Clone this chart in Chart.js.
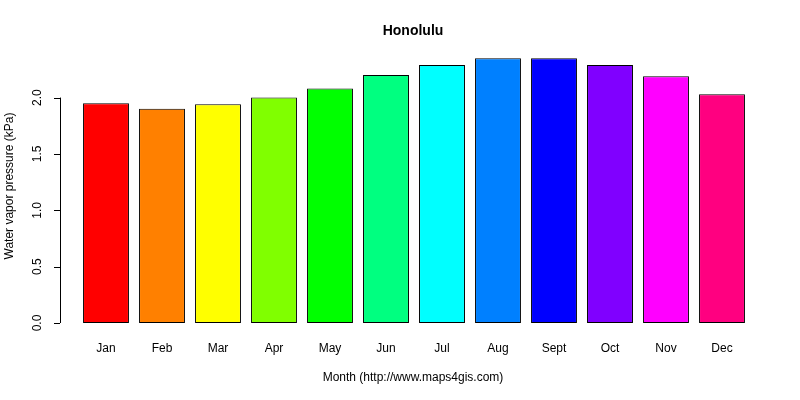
<!DOCTYPE html>
<html>
<head>
<meta charset="utf-8">
<script src="https://cdn.jsdelivr.net/npm/chart.js@4"></script>
<style>
  body { margin: 0; background: #fff; }
  #wrap { width: 800px; height: 400px; }
</style>
</head>
<body>
<div id="wrap"><canvas id="chart"></canvas></div>
<script>
const months = ['Jan', 'Feb', 'Mar', 'Apr', 'May', 'Jun', 'Jul', 'Aug', 'Sept', 'Oct', 'Nov', 'Dec'];
const vaporPressure = [1.95, 1.90, 1.94, 2.00, 2.08, 2.20, 2.29, 2.35, 2.35, 2.29, 2.19, 2.03];
const barColors = ['#ff0000', '#ff8000', '#ffff00', '#80ff00', '#00ff00', '#00ff80',
                   '#00ffff', '#0080ff', '#0000ff', '#8000ff', '#ff00ff', '#ff0080'];
const yTicks = [0, 0.5, 1.0, 1.5, 2.0];

const font = '12px "Liberation Sans", Arial, sans-serif';

// draws the R-style axes, labels and title from the chart's scales
const rAxes = {
  id: 'rAxes',
  afterDraw(chart) {
    const ctx = chart.ctx;
    const y = chart.scales.y;
    const x = chart.scales.x;
    const area = chart.chartArea;
    const axisX = 60;
    ctx.save();
    ctx.strokeStyle = '#000';
    ctx.fillStyle = '#000';
    ctx.lineWidth = 1;
    ctx.beginPath();
    ctx.moveTo(axisX + 0.5, y.getPixelForValue(yTicks[0]));
    ctx.lineTo(axisX + 0.5, y.getPixelForValue(yTicks[yTicks.length - 1]));
    yTicks.forEach(t => {
      const py = Math.round(y.getPixelForValue(t)) + 0.5;
      ctx.moveTo(axisX, py);
      ctx.lineTo(axisX - 6, py);
    });
    ctx.stroke();

    ctx.font = font;
    ctx.textAlign = 'center';
    ctx.textBaseline = 'middle';
    yTicks.forEach(t => {
      ctx.save();
      ctx.translate(axisX - 22, y.getPixelForValue(t));
      ctx.rotate(-Math.PI / 2);
      ctx.fillText(t.toFixed(1), 0, 0);
      ctx.restore();
    });

    months.forEach((m, i) => ctx.fillText(m, x.getPixelForValue(i), area.bottom + 26));

    ctx.fillText('Month (http://www.maps4gis.com)', 413, 378);
    ctx.save();
    ctx.translate(10, 186);
    ctx.rotate(-Math.PI / 2);
    ctx.fillText('Water vapor pressure (kPa)', 0, 0);
    ctx.restore();

    ctx.font = 'bold 14px "Liberation Sans", Arial, sans-serif';
    ctx.fillText('Honolulu', 413, 31);
    ctx.restore();
  }
};

new Chart(document.getElementById('chart'), {
  type: 'bar',
  data: {
    labels: months,
    datasets: [{
      data: vaporPressure,
      backgroundColor: barColors,
      borderColor: '#000',
      borderWidth: 1,
      borderSkipped: false,
      barPercentage: 0.82,
      categoryPercentage: 1.0
    }]
  },
  options: {
    responsive: true,
    maintainAspectRatio: false,
    animation: false,
    layout: { padding: { left: 78, right: 50, top: 48, bottom: 77 } },
    plugins: { legend: { display: false }, tooltip: { enabled: false } },
    scales: {
      x: { display: false },
      y: { display: false, min: 0, max: 2.44 }
    }
  },
  plugins: [rAxes]
});
</script>
</body>
</html>
